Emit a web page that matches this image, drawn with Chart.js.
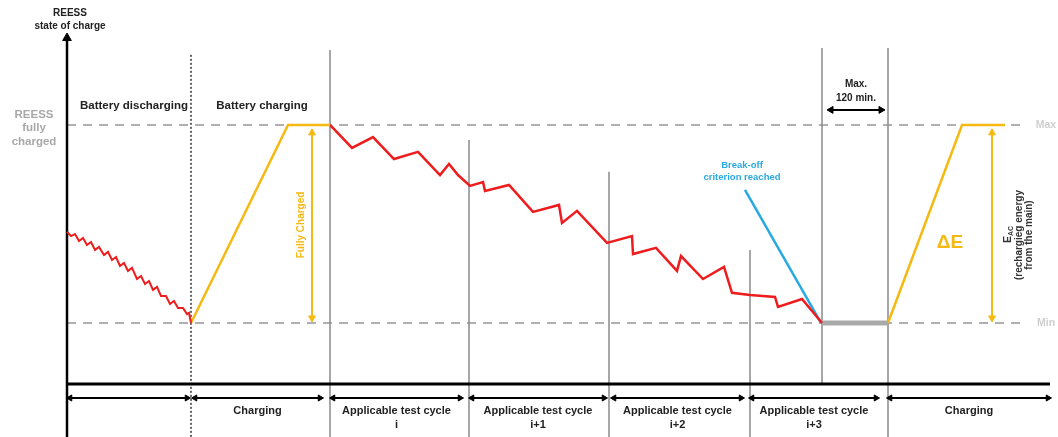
<!DOCTYPE html>
<html>
<head>
<meta charset="utf-8">
<script src="https://cdn.jsdelivr.net/npm/chart.js@4.4.0/dist/chart.umd.min.js"></script>
<style>
  html, body { margin: 0; padding: 0; background: #fff; }
  canvas { display: block; }
</style>
</head>
<body>
<canvas id="grafico" width="1058" height="437"></canvas>
<script>
// time axis (arbitrary units) and state of charge (Min = 0, Max = 100)
const descargaT   = [67, 71, 75, 79, 83, 87, 91, 95, 99, 104, 108, 112, 116, 120, 124, 128, 132, 137, 141, 145, 149, 153, 157, 161, 166, 170, 174, 178, 183, 187, 189, 191];
const descargaSoc = [46.0, 43.9, 44.9, 41.4, 42.9, 39.4, 40.9, 36.9, 38.4, 34.3, 35.9, 31.8, 33.3, 28.8, 30.3, 26.3, 27.8, 22.2, 23.7, 19.7, 21.2, 16.7, 18.2, 13.6, 13.6, 9.6, 11.1, 7.6, 7.6, 4.5, 5.1, 0];

const carga1T   = [191, 288, 330];
const carga1Soc = [0, 100, 100];

const ciclosT   = [330, 352, 373, 394, 418, 440, 449, 458, 470, 483, 485, 509, 533, 559, 562, 577, 607, 632, 633, 656, 677, 681, 703, 724, 732, 750, 775, 778, 802, 822];
const ciclosSoc = [100, 88.4, 93.9, 82.8, 86.4, 74.7, 80.3, 74.7, 69.2, 71.2, 66.7, 69.7, 56.1, 59.6, 50.5, 56.6, 40.4, 43.9, 34.8, 37.9, 26.3, 33.8, 22.2, 28.3, 15.2, 14.1, 13.1, 8.1, 12.1, 0];

const criterioT   = [745, 821];
const criterioSoc = [67.2, 0];

const esperaT   = [822, 888];
const esperaSoc = [0, 0];

const carga2T   = [888, 962, 1005];
const carga2Soc = [0, 100, 100];

// section boundaries on the time axis
const limites = [330, 469, 609, 750, 822, 888];
const limitesTopo = [137.9, 92.4, 76.3, 36.9, 138.9, 138.9];
const limitesBase = [-57.6, -57.6, -57.6, -57.6, -30.8, -57.6];

const secoes = [
  { de: 70, ate: 187, texto: [] },
  { de: 195, ate: 320, texto: ["Charging"] },
  { de: 333, ate: 460, texto: ["Applicable test cycle", "i"] },
  { de: 472, ate: 604, texto: ["Applicable test cycle", "i+1"] },
  { de: 614, ate: 741, texto: ["Applicable test cycle", "i+2"] },
  { de: 752, ate: 876, texto: ["Applicable test cycle", "i+3"] },
  { de: 890, ate: 1048, texto: ["Charging"] }
];

const VERMELHO = "#ee1c1c";
const AMARELO = "#f5b912";
const AZUL = "#29a9e1";
const CINZA = "#a9a9a9";

function pts(xs, ys) { return xs.map((x, i) => ({ x: x, y: ys[i] })); }

function linha(xs, ys, cor, largura, extra) {
  return Object.assign({
    data: pts(xs, ys), borderColor: cor, borderWidth: largura,
    pointRadius: 0, showLine: true, fill: false, tension: 0
  }, extra || {});
}

function seta(xs, ys, cor, rot, extra) {
  return Object.assign({
    data: pts(xs, ys), borderColor: cor, backgroundColor: cor, borderWidth: 2,
    pointStyle: "triangle", pointRadius: 4, pointRotation: rot,
    pointBorderWidth: 1, showLine: true, fill: false
  }, extra || {});
}

const datasets = [];
datasets.push(linha(descargaT, descargaSoc, VERMELHO, 2, { order: 1 }));
datasets.push(linha(carga1T, carga1Soc, AMARELO, 2.5, { order: 1 }));
datasets.push(linha(ciclosT, ciclosSoc, VERMELHO, 2.5, { order: 1 }));
datasets.push(linha(criterioT, criterioSoc, AZUL, 2.5, { order: 1 }));
datasets.push(linha(esperaT, esperaSoc, CINZA, 5, { order: 1 }));
datasets.push(linha(carga2T, carga2Soc, AMARELO, 2.5, { order: 1 }));

// Max / Min guides
datasets.push(linha([67, 1020], [100, 100], "#b0b0b0", 2, { borderDash: [9, 7], order: 5 }));
datasets.push(linha([67, 1020], [0, 0], "#b0b0b0", 2, { borderDash: [9, 7], order: 5 }));

// section boundaries
limites.forEach((t, i) => {
  datasets.push(linha([t, t], [limitesTopo[i], limitesBase[i]], "#8a8a8a", 1.5, { order: 4 }));
});
datasets.push(linha([191, 191], [135.4, -57.6], "#333", 1.5, { borderDash: [2, 2], order: 4 }));

// axes
datasets.push(seta([67, 67], [143.9, -57.6], "#000", [0, 0], { borderWidth: 2.5, pointRadius: [5, 0], order: 2 }));
datasets.push(linha([67, 1050], [-30.8, -30.8], "#000", 3, { order: 2 }));

// double arrows
datasets.push(seta([312, 312], [96.0, 2.5], AMARELO, [0, 180], { order: 2 }));
datasets.push(seta([992, 992], [96.0, 2.5], AMARELO, [0, 180], { order: 2 }));
datasets.push(seta([831, 881], [107.6, 107.6], "#000", [270, 90], { order: 2 }));
secoes.forEach(s => {
  datasets.push(seta([s.de, s.ate], [-37.9, -37.9], "#000", [270, 90], { order: 2, pointRadius: 3.5 }));
});

// text placed in chart values
const textos = [
  { t: "REESS", x: 70, y: 156.6, f: "bold 10px 'Liberation Sans'", c: "#222" },
  { t: "state of charge", x: 70, y: 150.0, f: "bold 10px 'Liberation Sans'", c: "#222" },
  { t: "REESS", x: 34, y: 105.1, f: "bold 11.5px 'Liberation Sans'", c: "#a8a8a8" },
  { t: "fully", x: 34, y: 98.4, f: "bold 11.5px 'Liberation Sans'", c: "#a8a8a8" },
  { t: "charged", x: 34, y: 91.4, f: "bold 11.5px 'Liberation Sans'", c: "#a8a8a8" },
  { t: "Battery discharging", x: 134, y: 109.6, f: "bold 11.5px 'Liberation Sans'", c: "#222" },
  { t: "Battery charging", x: 262, y: 109.6, f: "bold 11.5px 'Liberation Sans'", c: "#222" },
  { t: "Max.", x: 856, y: 120.7, f: "bold 10px 'Liberation Sans'", c: "#222" },
  { t: "120 min.", x: 856, y: 113.6, f: "bold 10px 'Liberation Sans'", c: "#222" },
  { t: "Break-off", x: 742, y: 79.8, f: "bold 9.5px 'Liberation Sans'", c: AZUL },
  { t: "criterion reached", x: 742, y: 73.7, f: "bold 9.5px 'Liberation Sans'", c: AZUL },
  { t: "\u0394E", x: 950, y: 40.4, f: "bold 19px 'Liberation Sans'", c: AMARELO },
  { t: "Max", x: 1046, y: 100, f: "bold 10.5px 'Liberation Sans'", c: "#cfcfcf" },
  { t: "Min", x: 1046, y: 0, f: "bold 10.5px 'Liberation Sans'", c: "#cfcfcf" },
  { t: "Fully Charged", x: 301, y: 49.5, f: "bold 10px 'Liberation Sans'", c: AMARELO, r: true },
  { t: "(rechargieg energy", x: 1019, y: 44.4, f: "bold 10px 'Liberation Sans'", c: "#333", r: true },
  { t: "from the main)", x: 1029, y: 44.4, f: "bold 10px 'Liberation Sans'", c: "#333", r: true }
];
secoes.forEach(s => {
  s.texto.forEach((t, k) => {
    textos.push({ t: t, x: (s.de + s.ate) / 2, y: k === 0 ? -44.5 : -51.6, f: "bold 11px 'Liberation Sans'", c: "#222" });
  });
});

const pluginTextos = {
  id: "textos",
  afterDatasetsDraw(chart) {
    const ctx = chart.ctx;
    const sx = chart.scales.x, sy = chart.scales.y;
    ctx.save();
    ctx.textAlign = "center";
    ctx.textBaseline = "middle";
    textos.forEach(o => {
      const px = sx.getPixelForValue(o.x), py = sy.getPixelForValue(o.y);
      ctx.font = o.f;
      ctx.fillStyle = o.c;
      if (o.r) {
        ctx.save();
        ctx.translate(px, py);
        ctx.rotate(-Math.PI / 2);
        ctx.fillText(o.t, 0, 0);
        ctx.restore();
      } else {
        ctx.fillText(o.t, px, py);
      }
    });
    // E with subscript AC, rotated
    const ex = sx.getPixelForValue(1008), ey = sy.getPixelForValue(44.4);
    ctx.translate(ex, ey);
    ctx.rotate(-Math.PI / 2);
    ctx.fillStyle = "#333";
    ctx.textAlign = "left";
    ctx.font = "bold 10.5px 'Liberation Sans'";
    ctx.fillText("E", -8, 0);
    ctx.font = "bold 7px 'Liberation Sans'";
    ctx.fillText("AC", -1, 3);
    ctx.restore();
  }
};

new Chart(document.getElementById("grafico"), {
  type: "scatter",
  data: { datasets: datasets },
  options: {
    responsive: false,
    animation: false,
    layout: { padding: 0, autoPadding: false },
    scales: {
      x: { type: "linear", min: 0, max: 1058, display: false },
      y: { type: "linear", min: -57.6, max: 163.1, display: false }
    },
    plugins: { legend: { display: false }, tooltip: { enabled: false } }
  },
  plugins: [pluginTextos]
});
</script>
</body>
</html>
